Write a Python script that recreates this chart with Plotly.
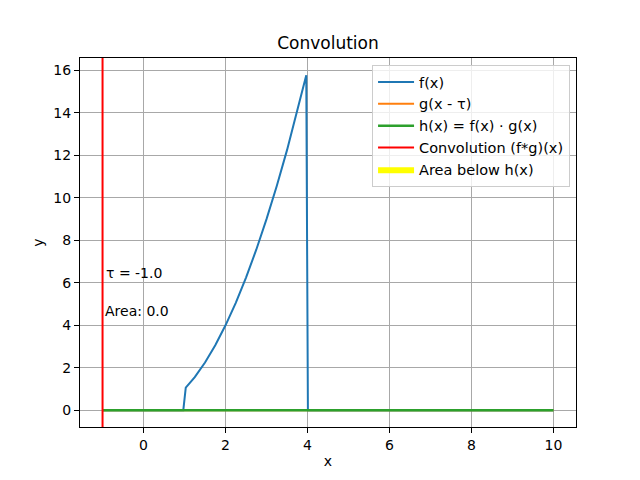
import plotly.graph_objects as go

# data
tau = -1.0
area = 0.0

f_x = [-1.0, 0.97, 1.03, 1.25, 1.5, 1.75, 2.0, 2.25, 2.5, 2.75, 3.0, 3.25, 3.5, 3.75, 3.97, 4.01, 10.0]
f_y = [0, 0, 1.06, 1.56, 2.25, 3.06, 4.0, 5.06, 6.25, 7.56, 9.0, 10.56, 12.25, 14.06, 15.78, 0, 0]

g_x = [-1.0, 10.0]
g_y = [0, 0]

h_x = [-1.0, 10.0]
h_y = [0, 0]

x_ticks = [0, 2, 4, 6, 8, 10]
y_ticks = [0, 2, 4, 6, 8, 10, 12, 14, 16]

x_range = [-1.55, 10.55]
y_range = [-0.79, 16.59]

font = "DejaVu Sans"

fig = go.Figure()

# yellow area below h(x) (zero here)
fig.add_trace(go.Scatter(x=h_x, y=h_y, mode="lines", fill="tozeroy",
                         fillcolor="#ffff00", line=dict(width=0, color="#ffff00"),
                         name="Area below h(x)", legendrank=5))
fig.add_trace(go.Scatter(x=f_x, y=f_y, mode="lines", line=dict(color="#1f77b4", width=2),
                         name="f(x)", legendrank=1))
fig.add_trace(go.Scatter(x=g_x, y=g_y, mode="lines", line=dict(color="#ff7f0e", width=2),
                         name="g(x - τ)", legendrank=2))
fig.add_trace(go.Scatter(x=h_x, y=h_y, mode="lines", line=dict(color="#2ca02c", width=2.5),
                         name="h(x) = f(x) · g(x)", legendrank=3))
fig.add_trace(go.Scatter(x=[tau, tau], y=y_range, mode="lines", line=dict(color="#ff0000", width=2),
                         name="Convolution (f*g)(x)", legendrank=4))

fig.add_annotation(x=tau, y=6.0, xanchor="left", yanchor="bottom", xshift=1,
                   text=f"τ = {tau}", showarrow=False, font=dict(size=14, color="black"))
fig.add_annotation(x=tau, y=4.2, xanchor="left", yanchor="bottom", xshift=0,
                   text=f"Area: {area}", showarrow=False, font=dict(size=14, color="black"))

axis_style = dict(showline=True, linecolor="black", linewidth=1, mirror=True,
                  ticks="outside", ticklen=5, tickcolor="black",
                  showgrid=True, gridcolor="#a8a8a8", gridwidth=1, zeroline=False,
                  automargin=False, tickfont=dict(size=14, color="black"))

fig.update_xaxes(range=x_range, tickvals=x_ticks, title=dict(text="x", font=dict(size=14), standoff=4), **axis_style)
fig.update_yaxes(range=y_range, tickvals=y_ticks, title=dict(text="y", font=dict(size=14), standoff=6), **axis_style)

# page body adds 8px offset, so margins shifted by 8
fig.update_layout(
    width=640, height=480,
    margin=dict(l=72, r=72, t=50, b=61),
    paper_bgcolor="white", plot_bgcolor="white",
    font=dict(family=font, size=14, color="black"),
    title=dict(text="Convolution", x=0.5, xanchor="center", xref="paper",
               y=0.927, yanchor="middle", yref="container", automargin=False,
               font=dict(size=17, color="black")),
    legend=dict(x=0.988, y=0.981, xanchor="right", yanchor="top", itemwidth=36,
                bgcolor="rgba(255,255,255,0.8)", bordercolor="#cccccc", borderwidth=1,
                font=dict(size=14.5)),
    showlegend=True,
)

fig.write_html("out.html")
